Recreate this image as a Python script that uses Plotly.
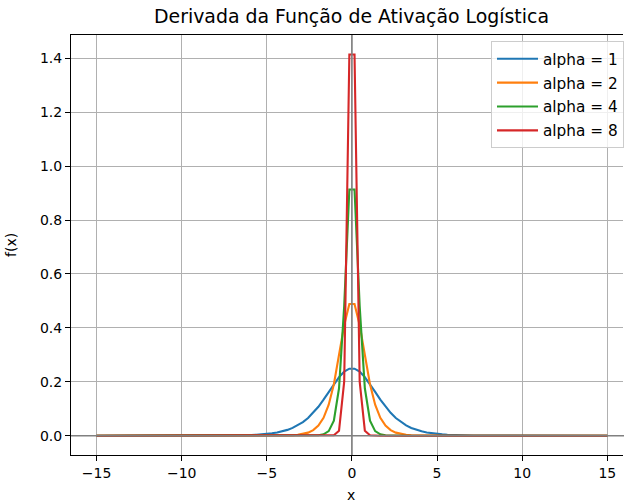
import plotly.graph_objects as go

# Sample points (x) and the logistic derivative for each slope alpha
x_vals = [-15.0, -7.727, -7.424, -7.121, -6.818, -6.515, -6.212, -5.909, -5.606, -5.303,
          -5.0, -4.697, -4.394, -4.091, -3.788, -3.485, -3.182, -2.879, -2.576, -2.273,
          -1.970, -1.667, -1.364, -1.061, -0.758, -0.455, -0.152,
          0.152, 0.455, 0.758, 1.061, 1.364, 1.667, 1.970, 2.273, 2.576, 2.879,
          3.182, 3.485, 3.788, 4.091, 4.394, 4.697, 5.0, 5.303, 5.606, 5.909,
          6.212, 6.515, 6.818, 7.121, 7.424, 7.727, 15.0]

y_alpha1 = [0.0, 0.0004, 0.0006, 0.0008, 0.0011, 0.0015, 0.0020, 0.0027, 0.0037, 0.0049,
            0.0066, 0.0090, 0.0120, 0.0162, 0.0216, 0.0289, 0.0383, 0.0504, 0.0657, 0.0847,
            0.1074, 0.1336, 0.1622, 0.1911, 0.2173, 0.2375, 0.2486,
            0.2486, 0.2375, 0.2173, 0.1911, 0.1622, 0.1336, 0.1074, 0.0847, 0.0657, 0.0504,
            0.0383, 0.0289, 0.0216, 0.0162, 0.0120, 0.0090, 0.0066, 0.0049, 0.0037, 0.0027,
            0.0020, 0.0015, 0.0011, 0.0008, 0.0006, 0.0004, 0.0]

y_alpha2 = [0.0, 0.0, 0.0, 0.0, 0.0, 0.0, 0.0, 0.0, 0.0, 0.0,
            0.0001, 0.0002, 0.0003, 0.0006, 0.0010, 0.0019, 0.0034, 0.0063, 0.0114, 0.0208,
            0.0375, 0.0665, 0.1152, 0.1912, 0.2954, 0.4094, 0.4887,
            0.4887, 0.4094, 0.2954, 0.1912, 0.1152, 0.0665, 0.0375, 0.0208, 0.0114, 0.0063,
            0.0034, 0.0019, 0.0010, 0.0006, 0.0003, 0.0002, 0.0001, 0.0, 0.0, 0.0,
            0.0, 0.0, 0.0, 0.0, 0.0, 0.0, 0.0]

y_alpha4 = [0.0, 0.0, 0.0, 0.0, 0.0, 0.0, 0.0, 0.0, 0.0, 0.0,
            0.0, 0.0, 0.0, 0.0, 0.0, 0.0, 0.0, 0.0, 0.0001, 0.0005,
            0.0015, 0.0051, 0.0170, 0.0559, 0.1759, 0.4807, 0.9135,
            0.9135, 0.4807, 0.1759, 0.0559, 0.0170, 0.0051, 0.0015, 0.0005, 0.0001, 0.0,
            0.0, 0.0, 0.0, 0.0, 0.0, 0.0, 0.0, 0.0, 0.0, 0.0,
            0.0, 0.0, 0.0, 0.0, 0.0, 0.0, 0.0]

y_alpha8 = [0.0, 0.0, 0.0, 0.0, 0.0, 0.0, 0.0, 0.0, 0.0, 0.0,
            0.0, 0.0, 0.0, 0.0, 0.0, 0.0, 0.0, 0.0, 0.0, 0.0,
            0.0, 0.0, 0.0001, 0.0017, 0.0186, 0.2002, 1.4140,
            1.4140, 0.2002, 0.0186, 0.0017, 0.0001, 0.0, 0.0, 0.0, 0.0, 0.0,
            0.0, 0.0, 0.0, 0.0, 0.0, 0.0, 0.0, 0.0, 0.0, 0.0,
            0.0, 0.0, 0.0, 0.0, 0.0, 0.0, 0.0]

series_names = ["alpha = 1", "alpha = 2", "alpha = 4", "alpha = 8"]
series_values = [y_alpha1, y_alpha2, y_alpha4, y_alpha8]
series_colors = ["#1f77b4", "#ff7f0e", "#2ca02c", "#d62728"]

x_ticks = [-15, -10, -5, 0, 5, 10, 15]
y_ticks = [0.0, 0.2, 0.4, 0.6, 0.8, 1.0, 1.2, 1.4]

FONT = "DejaVu Sans"

fig = go.Figure()
for name, ys, color in zip(series_names, series_values, series_colors):
    fig.add_trace(go.Scatter(
        x=x_vals, y=ys, mode="lines", name=name, legendgroup=name,
        line=dict(color=color, width=2.1),
    ))

# Reference lines at y = 0 and x = 0, drawn over the curves
fig.add_shape(type="line", xref="paper", yref="y", x0=0, x1=1.05, y0=0, y1=0,
              line=dict(color="gray", width=1.6), layer="above")
fig.add_shape(type="line", xref="x", yref="paper", x0=0, x1=0, y0=0, y1=1,
              line=dict(color="gray", width=1.6), layer="above")

axis_common = dict(
    showgrid=True, gridcolor="#b0b0b0", gridwidth=1.1,
    zeroline=False, showline=True, linecolor="black", linewidth=1.1,
    ticks="outside", ticklen=5, tickwidth=1.1, tickcolor="black",
    tickfont=dict(family=FONT, size=14, color="black"),
)

fig.update_layout(
    width=624, height=503,
    margin=dict(l=71, r=0, t=35, b=48),
    paper_bgcolor="white", plot_bgcolor="white",
    font=dict(family=FONT, color="black"),
    xaxis=dict(range=[-16.5, 15.92], tickvals=x_ticks, mirror=True, **axis_common),
    yaxis=dict(range=[-0.0716, 1.4864], tickvals=y_ticks, tickformat=".1f", **axis_common),
    legend=dict(
        x=0.761, y=0.985, xanchor="left", yanchor="top",
        bgcolor="rgba(255,255,255,0.8)", bordercolor="#cccccc", borderwidth=1,
        font=dict(family=FONT, size=15.3, color="black"),
        traceorder="grouped", tracegroupgap=1, itemwidth=41,
    ),
    showlegend=True,
    annotations=[
        dict(text="Derivada da Função de Ativação Logística", xref="paper", yref="paper",
             x=0.508, y=1, yshift=5.5, xanchor="center", yanchor="bottom", showarrow=False,
             font=dict(family=FONT, size=18.9, color="black")),
        dict(text="x", xref="paper", yref="paper", x=0.508, y=0, yshift=-30,
             xanchor="center", yanchor="top", showarrow=False,
             font=dict(family=FONT, size=14, color="black")),
        dict(text="f(x)", xref="paper", yref="paper", x=0, xshift=-50, y=0.5,
             xanchor="right", yanchor="middle", textangle=-90, showarrow=False,
             font=dict(family=FONT, size=14, color="black")),
    ],
)

fig.write_html("out.html")
